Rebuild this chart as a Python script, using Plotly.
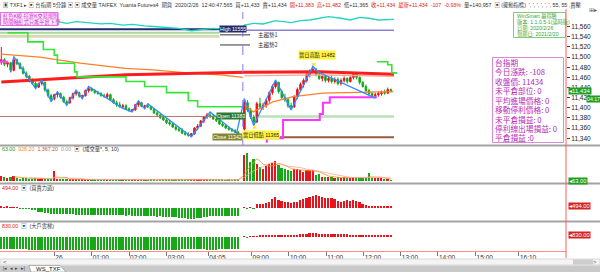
import plotly.graph_objects as go
import pandas as pd

W, H = 600, 272

# ---------------- data ----------------
night_open = [11490,11495,11486,11489,11474,11495,11487,11478,11468,11462,
              11453,11448,11441,11448,11450,11435,11424,11418,11426,11428,
              11421,11412,11410,11420,11428,11430,11423,11424,11434,11438,
              11434,11430,11428,11424,11422,11426,11416,11410,11406,11402,
              11404,11398,11395,11396,11406,11410,11403,11404,11402,11397,
              11390,11386,11381,11376,11371,11368,11362,11358,11356,11350,
              11348,11346,11349,11360,11364,11374,11382,11386,11384,11378,
              11375,11368,11365,11360,11358,11355,11352]
night_high = [11520,11498,11492,11490,11501,11497,11490,11482,11472,11465,
              11458,11452,11450,11455,11452,11438,11428,11428,11432,11430,
              11424,11416,11422,11430,11435,11432,11426,11436,11442,11440,
              11437,11434,11431,11428,11430,11428,11419,11414,11412,11408,
              11407,11401,11398,11408,11414,11412,11406,11408,11404,11400,
              11394,11388,11385,11380,11376,11372,11366,11362,11360,11354,
              11352,11350,11362,11368,11376,11384,11390,11392,11388,11382,
              11378,11372,11368,11364,11360,11358,11354]
night_low = [11485,11482,11480,11470,11472,11484,11476,11466,11458,11450,
             11445,11438,11439,11444,11432,11420,11412,11415,11420,11418,
             11410,11405,11408,11416,11424,11420,11418,11422,11430,11432,
             11428,11426,11422,11420,11418,11414,11408,11402,11400,11399,
             11396,11392,11392,11394,11402,11401,11398,11400,11395,11388,
             11384,11378,11374,11368,11365,11360,11355,11352,11348,11345,
             11343,11343,11347,11356,11362,11370,11378,11380,11376,11372,
             11366,11362,11358,11355,11352,11350,11340]
night_close = [11495,11486,11489,11474,11495,11487,11478,11468,11462,11453,
               11448,11441,11448,11450,11435,11424,11418,11426,11428,11421,
               11412,11410,11420,11428,11430,11423,11424,11434,11438,11434,
               11430,11428,11424,11422,11426,11416,11410,11406,11402,11404,
               11398,11395,11396,11406,11410,11403,11404,11402,11397,11390,
               11386,11381,11376,11371,11368,11362,11358,11356,11350,11348,
               11346,11349,11360,11364,11374,11382,11386,11384,11378,11375,
               11368,11365,11360,11358,11355,11352,11342]

day_open = [11358,11410,11396,11382,11372,11408,11402,11405,11415,11430,
            11442,11450,11432,11420,11416,11404,11402,11422,11436,11446,
            11454,11466,11472,11476,11466,11458,11462,11454,11458,11452,
            11456,11448,11454,11458,11452,11460,11466,11460,11450,11442,
            11434,11428,11424,11426,11428,11430,11429,11436]
day_high = [11418,11415,11400,11386,11412,11420,11410,11418,11432,11446,
            11455,11452,11436,11428,11420,11410,11425,11440,11450,11458,
            11470,11476,11482,11479,11470,11466,11465,11462,11464,11460,
            11460,11458,11462,11460,11462,11470,11468,11462,11453,11446,
            11438,11432,11430,11432,11434,11436,11440,11438]
day_low = [11355,11392,11378,11365,11370,11398,11396,11400,11410,11426,
           11438,11428,11418,11412,11400,11396,11400,11418,11432,11440,
           11450,11460,11468,11462,11455,11452,11450,11450,11448,11448,
           11444,11444,11450,11448,11450,11456,11456,11446,11440,11430,
           11424,11420,11419,11422,11424,11426,11427,11430]
day_close = [11410,11396,11382,11372,11408,11402,11405,11415,11430,11442,
             11450,11432,11420,11416,11404,11402,11422,11436,11446,11454,
             11466,11472,11476,11466,11458,11462,11454,11458,11452,11456,
             11448,11454,11458,11452,11460,11466,11460,11450,11442,11434,
             11428,11424,11426,11428,11430,11429,11436,11434]

night_idx = list(range(0, 77))
day_idx = list(range(78, 126))

night_volume = [2200,1800,1500,1900,2100,1300,1000,1200,1400,900,
                1100,1300,1000,1200,900,800,1100,4500,1000,800,
                700,900,800,700,600,800,900,600,700,600,
                500,600,700,500,600,500,450,600,700,800,
                600,500,500,600,450,500,400,450,600,500,
                400,500,500,600,700,600,800,700,600,700,
                800,900,700,600,800,700,600,500,600,500,
                500,600,450,500,400,500,600]
day_volume = [11500,12500,8500,10000,7500,6200,5500,6800,7500,8200,
              9000,7200,6000,5200,4800,4600,5200,5600,4800,4200,
              5000,5000,4800,2800,3100,1900,1900,1600,1700,1500,
              1600,1400,1700,1500,1400,1600,1500,1300,
              1500,1400,3431,1500,1200,1300,1200,1100,978,63]

power_night = [300,250,300,200,250,100,-100,-150,-200,-250,
               -400,-600,-900,-1100,-1200,-1300,-1400,-1400,-1500,-1500,
               -1500,-1600,-1600,-1600,-1650,-1650,-1700,-1700,-1650,-1700,
               -1750,-1750,-1750,-1800,-1800,-1750,-1800,-1850,-1800,-1850,
               -1900,-1850,-1900,-1950,-2000,-2000,-2050,-2100,-2050,-2100,
               -2150,-2100,-2200,-2200,-2250,-2300,-2350,-2400,-2500,-2600,
               -2650,-2700,-2650,-2550,-2400,-2300,-2200,-2100,-2100,-2050,
               -2000,-2000,-2050,-2000,-2000,-1950,-2000]
power_day = [200,-150,150,-100,1000,1000,1100,1250,1500,2250,
             2750,2000,1750,1500,1500,1250,1400,1500,2000,2250,
             2500,2750,3000,3250,3000,2750,2500,2500,2500,2250,
             1750,1500,1750,2000,1750,2000,1750,1400,1000,750,
             500,400,500,450,500,500,480,494]

ladder_night = [-4800,-4800,-4850,-4800,-4850,-4900,-4900,-4950,-4950,-5000,
                -5000,-5050,-5100,-5100,-5150,-5200,-5250,-5300,-5300,-5350,
                -5350,-5350,-5300,-5300,-5250,-5250,-5200,-5200,-5150,-5150,
                -5100,-5100,-5100,-5050,-5050,-5050,-5000,-5000,-5000,-5050,
                -5050,-5100,-5100,-5100,-5150,-5150,-5200,-5200,-5200,-5150,
                -5150,-5100,-5100,-5050,-5050,-5000,-5000,-5000,-4950,-4950,
                -4950,-4900,-4900,-4900,-4950,-4950,-5000,-5000,-5000,-5000,
                -4950,-4950,-4950,-4950,-4900,-4900,-4900]
ladder_day = [400,-150,150,300,400,450,500,550,700,900,
              1000,800,700,750,800,750,800,900,1100,1300,
              1400,1500,1500,1450,1400,1350,1300,1250,1200,1150,
              1100,1100,1050,1050,1000,1000,950,950,900,880,
              850,850,830,830,820,830,830,830]

# zigzag swing line
zz_idx = [3, 4, 11, 13, 16, 18, 21, 24, 26, 28, 39, 42, 44, 46, 47, 61, 67, 75.5,
          78, 81, 88, 93, 100, 101.5, 120]
zz_price = [11470, 11501, 11438, 11455, 11412, 11432, 11405, 11435, 11418, 11442,
            11399, 11392, 11414, 11398, 11408, 11343, 11392, 11350,
            11418, 11365, 11455, 11396, 11482, 11471, 11419]
# long moving average (red)
red_idx = [0, 40, 78, 102, 126]
red_price = [11451, 11465, 11470, 11471, 11466]
# night moving average (orange) and its day continuation
orn_idx = [0, 12.4, 25.3, 39.7, 48.7, 59.6, 70.2, 77.5]
orn_price = [11506, 11500, 11488, 11478, 11475, 11469, 11465, 11460]
sal_idx = [78, 102, 126]
sal_price = [11463, 11465, 11462]
# day moving average (orange)
od_idx = [78.2, 80.8, 84, 87.2, 93.6, 103.2, 125.7]
od_price = [11406, 11392, 11402, 11412, 11422, 11429, 11432]
# trailing stop lines
gs_idx = [2, 8.5, 13.5, 17, 18, 23.5, 24.3, 40, 46, 53, 60, 63, 77.5]
gs_price = [11548, 11530, 11515, 11504, 11488, 11471, 11461, 11452, 11442, 11430, 11414, 11402, 11402]
gd_idx = [120.5, 124, 125.3, 127]
gd_price = [11491, 11485, 11469, 11469]
mg_idx = [85.2, 85.2, 90.4, 102.2, 103.2, 105.4, 120.5]
mg_price = [11331, 11340, 11376, 11388, 11410, 11421, 11421]
# indicator line in the top strip (0-100 scale)
cy_idx = [18, 21, 24, 28, 32, 35, 39, 42, 46, 50, 53, 57, 61, 64, 68, 72, 77, 78, 81, 84,
          88, 93, 96, 99, 102, 105, 109, 112, 115, 118, 121, 126]
cy_val = [92.7, 91.5, 92.7, 92.0, 91.0, 91.5, 90.2, 90.7, 89.5, 88.9, 88.5, 87.7, 85.9, 86.5,
          87.7, 86.9, 87.7, 90.2, 91.5, 91.0, 93.5, 92.0, 93.5, 94.0, 95.3, 96.5, 95.3, 94.0,
          96.0, 95.3, 94.0, 94.5]

# reference levels
prev_high = 11555
day_high_line = 11553
pale_level = 11548
beige_level = 11541
trend1_level = 11544
trend2_level = 11524
open_level = 11383
close_level = 11342
day_hi = 11482
day_lo = 11365
entry_level = 11491
session_break = 77.5

tick_idx = [17, 29, 41, 53.1, 66.4, 80.3, 92.3, 104.3, 116.3, 128.2, 140.1, 152.2, 166.1]
tick_labels = ["26", "01:00", "02:00", "03:00", "04:05", "09:00", "10:00", "11:00",
               "12:00", "13:00", "14:00", "15:00", "16:10"]
price_ticks = [11340, 11360, 11380, 11400, 11420, 11440, 11460, 11480, 11500, 11520, 11540, 11560]

info_lines = ["台指期", "今日漲跌: -108", "收盤價: 11434", "未平倉部位: 0", "平均進場價格: 0",
              "移動停利價格: 0", "未平倉損益: 0", "停利線出場損益: 0", "平倉損益 :0"]
win_lines = ["WinSmart 贏得勝", "版本: 1.1.0.5-1(滿時版)", "日期: 2020/2/26", "到期日: 2021/2/20"]
legend_lines = ["紅色K線-持倉K交易規則", "時間軸紅式只能平倉下單"]

# ---------------- build ----------------
FONT = "Liberation Sans, Noto Sans CJK TC, sans-serif"
CJK = "Noto Sans CJK TC, sans-serif"
UP, DN = "#e8141c", "#17a817"

x_all = night_idx + day_idx
o_all = night_open + day_open
h_all = night_high + day_high
l_all = night_low + day_low
c_all = night_close + day_close
vol = night_volume + day_volume
pw = power_night + power_day
ld = ladder_night + ladder_day
vcol = [UP if c >= o else DN for o, c in zip(o_all, c_all)]
vs = pd.Series(vol, dtype=float)
ma5 = vs.rolling(5).mean()
ma10 = vs.rolling(10).mean()

def px(x):
    return x / W

def py(y):
    return 1 - y / H

fig = go.Figure()

def line(xs, ys, color, width=1, shape="linear", dash="solid", yaxis="y"):
    fig.add_trace(go.Scatter(x=xs, y=ys, mode="lines", line=dict(color=color, width=width, shape=shape, dash=dash),
                             yaxis=yaxis, xaxis="x", hoverinfo="skip", showlegend=False))

# background level lines
line([-0.5, 70], [beige_level, beige_level], "#d9d9b3", 3)
line([-0.5, 70], [pale_level, pale_level], "#a5d8a5", 2)
line([-0.5, 74], [prev_high, prev_high], "#1f2d6e", 2)
line([77.5, 126], [day_high_line, day_high_line], "#8c80d8", 1.5)
line([70.2, 79.8], [trend1_level, trend1_level], "#555555", 1.2)
line([70.2, 79.8], [trend2_level, trend2_level], "#555555", 1.2)
line([-0.5, 77.5], [open_level, open_level], "#b8706a", 1)
line([82.5, 126], [open_level, open_level], "#b9e2b9", 2.5)
line([89.4, 126], [close_level, close_level], "#9a5a3c", 2)
line([-0.4, 2.2], [entry_level, entry_level], "#ff40ff", 2)

# indicator strip line
fig.add_trace(go.Scatter(x=cy_idx, y=cy_val, mode="lines", line=dict(color="#22d3c0", width=1.3),
                         yaxis="y5", xaxis="x", hoverinfo="skip", showlegend=False))

# moving averages / stops
line(orn_idx, orn_price, "#ff7f2a", 1.2)
line(sal_idx, sal_price, "#f5a58e", 1.2)
line(red_idx, red_price, "#ff1c1c", 3)
line(od_idx, od_price, "#ff7f2a", 1.3)
line(gs_idx, gs_price, "#33e633", 1.6, shape="hv")
line(gd_idx, gd_price, "#33e633", 1.6, shape="hv")
line(mg_idx, mg_price, "#ff33ff", 2, shape="hv")

# candles
fig.add_trace(go.Candlestick(x=x_all, open=o_all, high=h_all, low=l_all, close=c_all,
                             increasing=dict(line=dict(color=UP, width=1), fillcolor=UP),
                             decreasing=dict(line=dict(color=DN, width=1), fillcolor=DN),
                             whiskerwidth=0, xaxis="x", yaxis="y", hoverinfo="skip", showlegend=False))
line(zz_idx, zz_price, "#2f8cff", 1.3)

# high / low markers
fig.add_trace(go.Scatter(x=[100.3, 81.3], y=[day_hi + 4, day_lo - 4], mode="markers",
                         marker=dict(symbol=["triangle-down", "triangle-up"], size=4, color="#ffe400"),
                         xaxis="x", yaxis="y", hoverinfo="skip", showlegend=False))

# volume panel
fig.add_trace(go.Bar(x=x_all, y=vol, marker=dict(color=vcol, line=dict(width=0)), width=0.55,
                     xaxis="x", yaxis="y2", hoverinfo="skip", showlegend=False))
line(x_all, list(ma5), "#ff8c1a", 0.8, yaxis="y2")
line(x_all, list(ma10), "#f3a9a0", 0.8, yaxis="y2")

# power panel
fig.add_trace(go.Bar(x=x_all, y=pw, marker=dict(color=[UP if v >= 0 else DN for v in pw], line=dict(width=0)),
                     width=0.55, xaxis="x", yaxis="y3", hoverinfo="skip", showlegend=False))
# ladder panel
fig.add_trace(go.Bar(x=x_all, y=ld, marker=dict(color=[UP if v >= 0 else DN for v in ld], line=dict(width=0)),
                     width=0.55, xaxis="x", yaxis="y4", hoverinfo="skip", showlegend=False))

XD = [0, 566 / W]
hidden = dict(showgrid=False, zeroline=False, showticklabels=False, ticks="", showline=False)
fig.update_layout(
    width=W, height=H, margin=dict(l=0, r=0, t=0, b=0),
    paper_bgcolor="white", plot_bgcolor="white", showlegend=False, bargap=0,
    xaxis=dict(domain=XD, range=[-0.42, 181.2], anchor="y4", tickvals=tick_idx, ticktext=tick_labels,
               ticks="outside", ticklen=4, tickcolor="#777", ticklabelposition="outside right",
               tickfont=dict(size=6.5, color="#333", family=FONT),
               showline=True, linecolor="#ff8e8e", linewidth=1, showgrid=False, zeroline=False,
               rangeslider=dict(visible=False)),
    yaxis=dict(domain=[py(145), py(12)], range=[11326.7, 11589], side="right", anchor="x",
               tickvals=price_ticks, tickformat=",d", ticks="outside", ticklen=3, tickcolor="#444",
               tickfont=dict(size=6.5, color="#222", family=FONT), showgrid=False, zeroline=False, showline=False),
    yaxis2=dict(domain=[py(183), py(146)], range=[-900, 15750], anchor="x", **hidden),
    yaxis3=dict(domain=[py(221), py(184)], range=[-3250, 6000], anchor="x", **hidden),
    yaxis4=dict(domain=[py(251), py(222)], range=[-5600, 6000], anchor="x", **hidden),
    yaxis5=dict(overlaying="y", range=[0, 100], anchor="x", **hidden),
)

shapes = []
# panel separators
for yy in [145.5, 183.5, 221.5]:
    shapes.append(dict(type="line", xref="paper", yref="paper", x0=0, x1=1, y0=py(yy), y1=py(yy),
                       line=dict(color="#a3a3a3", width=2)))
# right axis red line
shapes.append(dict(type="line", xref="paper", yref="paper", x0=px(566), x1=px(566), y0=py(258), y1=py(9),
                   line=dict(color="#ff5c5c", width=1)))
# session break
shapes.append(dict(type="line", xref="x", yref="paper", x0=session_break, x1=session_break,
                   y0=py(145), y1=py(12), line=dict(color="#7d7dff", width=1, dash="dash")))
# legend box top-left
shapes.append(dict(type="rect", xref="paper", yref="paper", x0=px(0.5), x1=px(58), y0=py(25.5), y1=py(12.5),
                   line=dict(color="#e070e0", width=1), fillcolor="#fdeefd"))
# WinSmart box
shapes.append(dict(type="rect", xref="paper", yref="paper", x0=px(513.5), x1=px(565.5), y0=py(37.5), y1=py(12.5),
                   line=dict(color="#7ccc7c", width=1), fillcolor="white"))
# info box
shapes.append(dict(type="rect", xref="paper", yref="paper", x0=px(492.5), x1=px(563.5), y0=py(142.5), y1=py(57.5),
                   line=dict(color="#d88ad8", width=1), fillcolor="white"))
# scroll bar + tab bar
shapes.append(dict(type="rect", xref="paper", yref="paper", x0=0, x1=1, y0=py(265), y1=py(259),
                   line=dict(color="#d8d8d8", width=1), fillcolor="#f4f4f4"))
shapes.append(dict(type="rect", xref="paper", yref="paper", x0=px(573), x1=px(593), y0=py(264.5), y1=py(259.5),
                   line=dict(width=0), fillcolor="#cdcdcd"))
shapes.append(dict(type="rect", xref="paper", yref="paper", x0=0, x1=1, y0=0, y1=py(265.5),
                   line=dict(width=0), fillcolor="#c9c9c9"))
shapes.append(dict(type="path", xref="paper", yref="paper",
                   path=f"M {px(29)},{py(265.5)} L {px(60)},{py(265.5)} L {px(66)},{py(272)} L {px(31)},{py(272)} Z",
                   line=dict(color="#888", width=0.6), fillcolor="white"))
fig.update_layout(shapes=shapes)

anns = []

def ann(x, y, text, size=6, color="#000", xanchor="left", yanchor="middle", xref="paper", yref="paper",
        bg=None, border=None, family=FONT, pad=0, yshift=0):
    d = dict(xref=xref, yref=yref, x=px(x) if xref == "paper" else x, y=py(y) if yref == "paper" else y,
             text=text, showarrow=False, xanchor=xanchor, yanchor=yanchor, align="left",
             font=dict(size=size, color=color, family=family), borderpad=pad, yshift=yshift)
    if bg:
        d["bgcolor"] = bg
    if border:
        d["bordercolor"] = border
        d["borderwidth"] = 1
    anns.append(d)

# top toolbar text
R = "#e02020"
top_txt = ("<b>▣</b> TXF1 ▸ ▣ 台指期 5分鐘 ▣ ▣ 成交量 TAIFEX  Yuanta Futures4  期貨  2020/2/26  12:40:47.565  "
           "買+11,433  賣+11,434  "
           f"<span style='color:{R}'>開+11,383  高+11,482</span>  低+11,365  "
           f"<span style='color:{R}'>收+11,434  最新+11,434  -107  -0.93%</span>  量+140,957  ▣ (擺動指標)  ', ', ', ', ', ', 55, 55 ,賣壓")
ann(2, 5, top_txt, size=5.3, color="#333")
ann(598, 10, "⊞▸", size=6, color="#555", xanchor="right")

# legend box text
ann(2, 15.7, legend_lines[0], size=5.2, color="#d020d0", family=CJK)
ann(2, 22.2, legend_lines[1], size=5.2, color="#d020d0", family=CJK)

# WinSmart box
for k, t in enumerate(win_lines):
    ann(515.5, 15.8 + 6.2 * k, t, size=5.2, color="#3aa43a")

# info box
for k, t in enumerate(info_lines):
    ann(494, 62.3 + 9.45 * k, t, size=7.7, color="#b72ab7", family="Noto Sans CJK TC, Liberation Sans")

# level labels
ann(74.5, prev_high, f"High {prev_high}", size=5.2, color="white", xanchor="center", xref="x", yref="y",
    bg="#1f2d6e")
ann(82, trend1_level, "主趨勢1", size=5.5, color="#333", xref="x", yref="y", family=CJK)
ann(82, trend2_level, "主趨勢2", size=5.5, color="#333", xref="x", yref="y", family=CJK)
ann(73.8, open_level, f"Open {open_level}", size=5.2, color="white", xanchor="center", xref="x", yref="y",
    bg="#2d7a2d")
ann(72.6, close_level, f"Close {close_level}", size=5.2, color="white", xanchor="center", xref="x", yref="y",
    bg="#85852e")
ann(101.2, day_hi, f"當日高點 {day_hi}", size=5.2, color="#222", xanchor="center", yanchor="bottom",
    xref="x", yref="y", bg="#fff23a", yshift=6)
ann(83.2, day_lo, f"當日低點 {day_lo}", size=5.2, color="#222", xanchor="center", yanchor="top",
    xref="x", yref="y", bg="#fff23a", yshift=-4)

# right side tags
last_close = c_all[-1]
ann(567.5, last_close, f"◂{last_close:,}", size=6, color="white", xref="paper", yref="y", bg="#1e9e1e")
ann(586, last_close, "04:17", size=5.2, color="white", xref="paper", yref="y", bg="#1e9e1e", yshift=-8)
ann(567.5, vol[-1], f"◂{vol[-1]:.2f}", size=5.8, color="white", xref="paper", yref="y2", bg="#1e9e1e")
ann(567.5, pw[-1], f"◂{pw[-1]:.2f}", size=5.8, color="white", xref="paper", yref="y3", bg="#d42323")
ann(567.5, ld[-1], f"◂{ld[-1]:.2f}", size=5.8, color="white", xref="paper", yref="y4", bg="#d42323")

# panel headers
G, O, B = "#1a9a1a", "#ff8a1a", "#c0504d"
ann(1, 149, f"<span style='color:{G}'>{vol[-1]:.2f}</span>  <span style='color:{O}'>{ma5.iloc[-1]:.2f}</span>  "
            f"<span style='color:{B}'>{ma10.iloc[-1]:,.2f}</span>  <span style='color:#999'>0.00</span>  ▣  (成交量*, 5, 10)",
    size=5.3, color="#333")
ann(1, 188, f"<span style='color:{R}'>{pw[-1]:.2f}</span>  ▣  (買賣力道)", size=5.3, color="#333")
ann(1, 225.5, f"<span style='color:{R}'>{ld[-1]:.2f}</span>  ▣  (大戶雲梯)", size=5.3, color="#333")

# scroll / tab bar glyphs
ann(2, 262, "<", size=6, color="#555")
ann(598, 262, ">", size=6, color="#555", xanchor="right")
ann(2, 268.5, "|◂  ◂  ▸  ▸|", size=4.5, color="#444")
ann(35, 268.5, "WS_TXF", size=6, color="#111")

fig.update_layout(annotations=anns)
fig.write_html("out.html")
